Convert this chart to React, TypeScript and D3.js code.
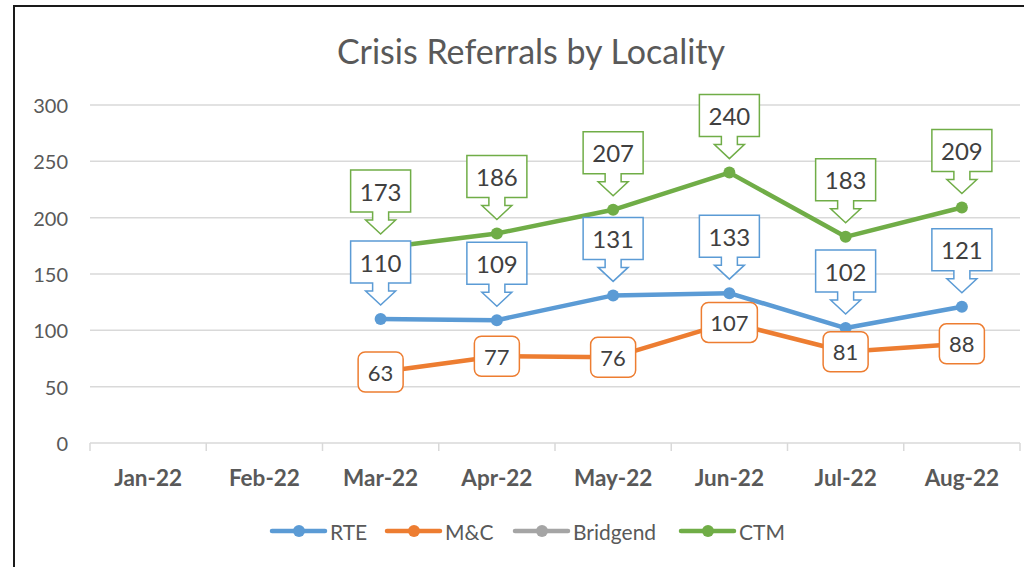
import React from "react";
import * as d3 from "d3";

const categories = ["Jan-22", "Feb-22", "Mar-22", "Apr-22", "May-22", "Jun-22", "Jul-22", "Aug-22"];
const rteValues: (number | null)[] = [null, null, 110, 109, 131, 133, 102, 121];
const mcValues: (number | null)[] = [null, null, 63, 77, 76, 107, 81, 88];
const bridgendValues: (number | null)[] = [null, null, null, null, null, null, null, null];
const ctmValues: (number | null)[] = [null, null, 173, 186, 207, 240, 183, 209];
const yTicks = [0, 50, 100, 150, 200, 250, 300];
const seriesNames = ["RTE", "M&C", "Bridgend", "CTM"];

const COLORS: Record<string, string> = {
  RTE: "#5B9BD5",
  "M&C": "#ED7D31",
  Bridgend: "#A5A5A5",
  CTM: "#70AD47",
};

const FONT = "Lato, 'Open Sans', sans-serif";

export default function App() {
  const W = 1024;
  const H = 567;
  const left = 90;
  const right = 1020;
  const x = d3.scaleBand<string>().domain(categories).range([left, right]).padding(0);
  const y = d3.scaleLinear().domain([0, 300]).range([443, 105]);
  const cx = (c: string) => (x(c) as number) + x.bandwidth() / 2;

  const series = [
    { name: "RTE", values: rteValues, label: "callout" },
    { name: "M&C", values: mcValues, label: "round" },
    { name: "Bridgend", values: bridgendValues, label: "none" },
    { name: "CTM", values: ctmValues, label: "callout" },
  ];

  const line = d3
    .line<{ c: string; v: number | null }>()
    .defined((d) => d.v != null)
    .x((d) => cx(d.c))
    .y((d) => y(d.v as number));

  const callout = (px: number, py: number, v: number, color: string, key: string) => {
    const tip = py - 14;
    const headTop = tip - 14;
    const rb = headTop - 8;
    const rt = rb - 42;
    const hw = 30;
    const path = [
      [px - hw, rt],
      [px + hw, rt],
      [px + hw, rb],
      [px + 8, rb],
      [px + 8, headTop],
      [px + 15, headTop],
      [px, tip],
      [px - 15, headTop],
      [px - 8, headTop],
      [px - 8, rb],
      [px - hw, rb],
    ]
      .map((p, i) => (i === 0 ? "M" : "L") + p[0] + "," + p[1])
      .join("") + "Z";
    return (
      <g key={key}>
        <path d={path} fill="#fff" stroke={color} strokeWidth={1.5} />
        <text
          x={px}
          y={rt + 21}
          textAnchor="middle"
          dominantBaseline="central"
          fontSize={24}
          fill="#404040"
          fontFamily={FONT}
        >
          {v}
        </text>
      </g>
    );
  };

  const roundLabel = (px: number, py: number, v: number, color: string, key: string) => {
    const w = String(v).length > 2 ? 56 : 45;
    return (
      <g key={key}>
        <rect x={px - w / 2} y={py - 20} width={w} height={40} rx={7} fill="#fff" stroke={color} strokeWidth={1.5} />
        <text
          x={px}
          y={py}
          textAnchor="middle"
          dominantBaseline="central"
          fontSize={22}
          fill="#404040"
          fontFamily={FONT}
        >
          {v}
        </text>
      </g>
    );
  };

  const legendX = [272, 387, 515, 681];

  return (
    <svg width={W} height={H} style={{ position: "absolute", left: 0, top: 0, background: "#fff" }}>
      <rect x={0} y={0} width={W} height={H} fill="#fff" />
      <path d={`M14,${H} L14,6 L${W},6`} fill="none" stroke="#1a1a1a" strokeWidth={2} />
      <text x={531} y={50} textAnchor="middle" dominantBaseline="central" fontSize={34} fill="#595959" fontFamily={FONT}>
        Crisis Referrals by Locality
      </text>
      {yTicks.map((t) => (
        <g key={t}>
          <line x1={left} x2={right} y1={y(t)} y2={y(t)} stroke="#d9d9d9" strokeWidth={1.5} />
          <text x={68} y={y(t)} textAnchor="end" dominantBaseline="central" fontSize={20} fill="#595959" fontFamily={FONT}>
            {t}
          </text>
        </g>
      ))}
      {categories.map((c, i) => (
        <line key={"tk" + i} x1={x(c) as number} x2={x(c) as number} y1={443} y2={451} stroke="#d9d9d9" strokeWidth={1.5} />
      ))}
      <line x1={right} x2={right} y1={443} y2={451} stroke="#d9d9d9" strokeWidth={1.5} />
      {categories.map((c) => (
        <text
          key={"xl" + c}
          x={cx(c)}
          y={477}
          textAnchor="middle"
          dominantBaseline="central"
          fontSize={22.5}
          fontWeight="bold"
          fill="#595959"
          fontFamily={FONT}
        >
          {c}
        </text>
      ))}
      {series.map((s) => {
        const data = categories.map((c, i) => ({ c, v: s.values[i] }));
        return (
          <g key={"s" + s.name}>
            <path d={line(data) || ""} fill="none" stroke={COLORS[s.name]} strokeWidth={4.5} strokeLinejoin="round" />
            {data
              .filter((d) => d.v != null)
              .map((d) => (
                <circle key={d.c} cx={cx(d.c)} cy={y(d.v as number)} r={6} fill={COLORS[s.name]} />
              ))}
          </g>
        );
      })}
      {series.map((s) =>
        categories.map((c, i) => {
          const v = s.values[i];
          if (v == null) return null;
          if (s.label === "callout") return callout(cx(c), y(v), v, COLORS[s.name], s.name + c);
          if (s.label === "round") return roundLabel(cx(c), y(v), v, COLORS[s.name], s.name + c);
          return null;
        })
      )}
      {seriesNames.map((n, i) => (
        <g key={"lg" + n}>
          <line x1={legendX[i]} x2={legendX[i] + 53} y1={531} y2={531} stroke={COLORS[n]} strokeWidth={4.5} strokeLinecap="round" />
          <circle cx={legendX[i] + 27} cy={531} r={6} fill={COLORS[n]} />
          <text x={legendX[i] + 58} y={531} dominantBaseline="central" fontSize={21} fill="#595959" fontFamily={FONT}>
            {n}
          </text>
        </g>
      ))}
    </svg>
  );
}
